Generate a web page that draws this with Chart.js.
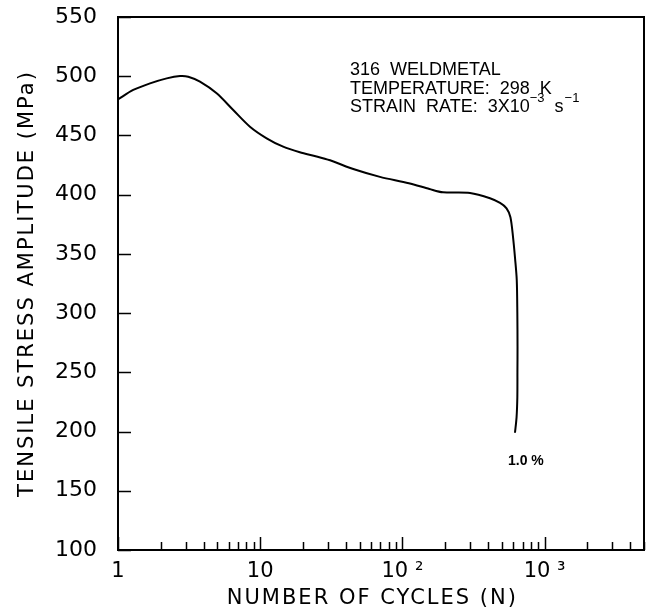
<!DOCTYPE html>
<html>
<head>
<meta charset="utf-8">
<script src="https://cdn.jsdelivr.net/npm/chart.js@4/dist/chart.umd.min.js"></script>
<style>
  html, body { margin: 0; padding: 0; background: #fff; }
  #wrap { width: 647px; height: 612px; }
</style>
</head>
<body>
<div id="wrap"><canvas id="c" width="647" height="612"></canvas></div>
<script>
// ---- data ----
const cycles = [1, 1.28, 1.68, 2.2, 2.73, 3.12, 3.77, 4.94, 6.46, 8.47, 11.1, 14.5, 19, 24.9, 31, 46.3, 69.5, 111, 155, 193, 299, 413, 486, 540, 575, 600, 620, 637, 643, 645, 644, 643, 635, 619];
const stress = [480.5, 488.4, 494, 498.2, 500.2, 499.6, 495.4, 485.6, 471.5, 457.4, 447.6, 440.5, 435.8, 432.3, 429, 421.2, 415, 409.7, 404.8, 402, 401.4, 397, 393, 388.5, 381, 364, 346, 328, 300, 272, 250, 229, 212, 199];

const xTickValues = [1,2,3,4,5,6,7,8,9,10,20,30,40,50,60,70,80,90,100,200,300,400,500,600,700,800,900,1000,2000,3000,4000,5000];
const xMajorLabels = {1: '1', 10: '10', 100: '10 \u00B2', 1000: '10 \u00B3'};
const yTickValues = [100,150,200,250,300,350,400,450,500,550];

const noteLines = ['316  WELDMETAL', 'TEMPERATURE:  298  K', 'STRAIN  RATE:  3X10'];
const noteX = 42.8;                 // cycles
const noteY = [505.3, 489.6, 474.4]; // MPa
const curveLabel = '1.0 %';
const curveLabelX = 553, curveLabelY = 175;

const FONT = '"Liberation Sans", Arial, sans-serif';
const AXFONT = '"DejaVu Sans", sans-serif';

// widen axis titles with letter spacing
const spacingPlugin = {
  id: 'titleSpacing',
  afterLayout(chart) {
    Object.values(chart.scales).forEach(s => {
      if (s._wrappedTitle) return;
      const orig = s.drawTitle;
      s.drawTitle = function () {
        const ctx = this.ctx;
        ctx.save();
        ctx.letterSpacing = '2px';
        orig.apply(this, arguments);
        ctx.restore();
      };
      s._wrappedTitle = true;
    });
  }
};

const framePlugin = {
  id: 'frame',
  afterDatasetsDraw(chart) {
    const {ctx, chartArea: a, scales: {x, y}} = chart;
    ctx.save();
    ctx.letterSpacing = '0px';
    ctx.strokeStyle = '#000';
    ctx.lineWidth = 2;
    ctx.strokeRect(a.left, a.top, a.right - a.left, a.bottom - a.top);
    ctx.lineWidth = 1.5;
    ctx.beginPath();
    yTickValues.forEach(v => {
      const py = Math.round(y.getPixelForValue(v)) + 0.5;
      ctx.moveTo(a.left, py); ctx.lineTo(a.left + 13, py);
    });
    xTickValues.forEach(v => {
      const px = Math.round(x.getPixelForValue(v)) + 0.5;
      const len = xMajorLabels[v] ? 13 : 8;
      ctx.moveTo(px, a.bottom); ctx.lineTo(px, a.bottom - len);
    });
    ctx.stroke();

    // annotation text
    ctx.fillStyle = '#000';
    ctx.textBaseline = 'middle';
    ctx.textAlign = 'left';
    ctx.font = '18px ' + FONT;
    const tx = x.getPixelForValue(noteX);
    noteLines.forEach((t, i) => ctx.fillText(t, tx, y.getPixelForValue(noteY[i])));
    const y3 = y.getPixelForValue(noteY[2]);
    let cx = tx + ctx.measureText(noteLines[2]).width;
    ctx.font = '13px ' + FONT;
    ctx.fillText('\u22123', cx, y3 - 8);
    cx += ctx.measureText('\u22123').width + 10;
    ctx.font = '18px ' + FONT;
    ctx.fillText('s', cx, y3);
    cx += ctx.measureText('s').width + 1;
    ctx.font = '13px ' + FONT;
    ctx.fillText('\u22121', cx, y3 - 8);

    ctx.font = 'bold 14px ' + FONT;
    ctx.fillText(curveLabel, x.getPixelForValue(curveLabelX), y.getPixelForValue(curveLabelY));
    ctx.restore();
  }
};

new Chart(document.getElementById('c'), {
  type: 'scatter',
  data: {
    datasets: [{
      data: cycles.map((c, i) => ({x: c, y: stress[i]})),
      showLine: true,
      borderColor: '#000',
      borderWidth: 2,
      pointRadius: 0,
      tension: 0.3,
      fill: false
    }]
  },
  options: {
    responsive: false,
    animation: false,
    layout: { padding: { top: 17, right: 3, left: 0, bottom: 0 } },
    plugins: { legend: { display: false }, tooltip: { enabled: false } },
    scales: {
      x: {
        type: 'logarithmic',
        min: 1, max: 5000,
        grid: { display: false, drawTicks: false },
        border: { display: false },
        afterBuildTicks: s => { s.ticks = xTickValues.map(v => ({value: v})); },
        afterFit: s => { s.height = 62; s.paddingLeft = 0; s.paddingRight = 0; s.paddingTop = 0; s.paddingBottom = 0; },
        ticks: {
          autoSkip: false, maxRotation: 0, padding: 9,
          color: '#000', font: { family: AXFONT, size: 21 },
          callback: v => xMajorLabels[v] || ''
        },
        title: {
          display: true, text: 'NUMBER OF CYCLES (N)  ', color: '#000',
          font: { family: AXFONT, size: 21 }, padding: { top: 0, bottom: 1 }
        }
      },
      y: {
        type: 'linear',
        min: 100, max: 550,
        grid: { display: false, drawTicks: false },
        border: { display: false },
        afterBuildTicks: s => { s.ticks = yTickValues.map(v => ({value: v})); },
        afterFit: s => { s.width = 118; s.paddingLeft = 0; s.paddingRight = 0; s.paddingTop = 0; s.paddingBottom = 0; },
        ticks: {
          padding: 21, color: '#000', font: { family: AXFONT, size: 22 },
          callback: v => String(v)
        },
        title: {
          display: true, text: 'TENSILE STRESS AMPLITUDE (MPa)', color: '#000',
          font: { family: AXFONT, size: 21 }, padding: { top: 15, bottom: 0 }
        }
      }
    }
  },
  plugins: [spacingPlugin, framePlugin]
});
</script>
</body>
</html>
